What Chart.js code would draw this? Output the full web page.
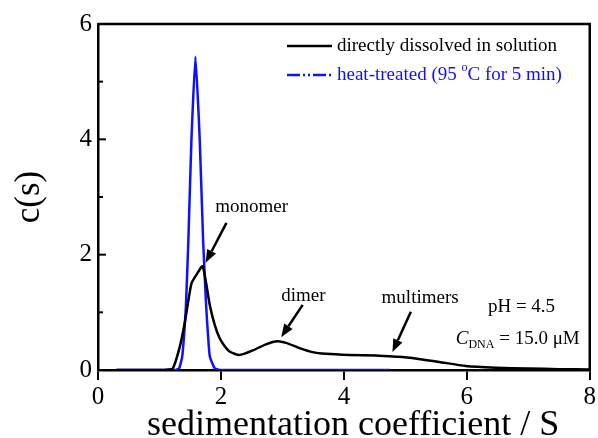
<!DOCTYPE html>
<html>
<head>
<meta charset="utf-8">
<script src="https://cdn.jsdelivr.net/npm/chart.js@4/dist/chart.umd.min.js"></script>
<style>
  html, body { margin: 0; padding: 0; background: #fff; }
</style>
</head>
<body>
<canvas id="chart" width="598" height="438"></canvas>
<script>
// Datos: c(s) frente al coeficiente de sedimentación
const xDirecto = [0.3, 1.0, 1.15, 1.22, 1.33, 1.41, 1.52, 1.60, 1.70, 1.76, 1.82, 1.90, 1.98, 2.05, 2.14, 2.30, 2.52, 2.74, 2.92, 3.06, 3.28, 3.49, 3.71, 4.09, 4.52, 4.85, 5.11, 5.35, 5.55, 5.98, 6.47, 7.0, 7.5, 8.0];
const yDirecto = [0, 0, 0.01, 0.03, 0.40, 0.81, 1.50, 1.65, 1.80, 1.50, 1.12, 0.78, 0.55, 0.43, 0.32, 0.26, 0.34, 0.45, 0.50, 0.47, 0.38, 0.31, 0.28, 0.26, 0.25, 0.23, 0.21, 0.17, 0.14, 0.07, 0.04, 0.025, 0.015, 0.01];

const xCalor = [0.3, 1.0, 1.25, 1.32, 1.37, 1.40, 1.43, 1.47, 1.52, 1.585, 1.655, 1.71, 1.76, 1.79, 1.82, 1.90, 2.0, 3.0, 4.75];
const yCalor = [0, 0, 0, 0.03, 0.23, 0.6, 1.1, 2.25, 3.99, 5.43, 3.99, 2.25, 1.1, 0.6, 0.23, 0.03, 0, 0, 0];

const etiquetasX = [0, 2, 4, 6, 8];
const etiquetasY = [0, 2, 4, 6];

const nombres = ['directly dissolved in solution', 'heat-treated (95 °C for 5 min)'];
const colores = ['#000000', '#1010ff'];
const tituloX = 'sedimentation coefficient / S';

// Anotaciones en coordenadas de datos
const notas = [
  { texto: 'monomer', x: 2.50, y: 2.83 },
  { texto: 'dimer', x: 3.34, y: 1.28 },
  { texto: 'multimers', x: 5.24, y: 1.25 },
  { texto: 'pH = 4.5', x: 6.89, y: 1.09 }
];
const flechas = [
  { x1: 2.09, y1: 2.55, x2: 1.75, y2: 1.86 },
  { x1: 3.33, y1: 1.13, x2: 2.98, y2: 0.57 },
  { x1: 5.09, y1: 1.01, x2: 4.79, y2: 0.31 }
];

const fuente = "'Liberation Serif', 'Times New Roman', serif";

const aPuntos = (xs, ys) => xs.map((x, i) => ({ x: x, y: ys[i] }));

// Dibuja una flecha con cabeza rellena
const dibujarFlecha = (ctx, x1, y1, x2, y2) => {
  const ang = Math.atan2(y2 - y1, x2 - x1);
  const largo = 13, ancho = 5;
  const bx = x2 - largo * Math.cos(ang);
  const by = y2 - largo * Math.sin(ang);
  ctx.beginPath();
  ctx.moveTo(x1, y1);
  ctx.lineTo(bx, by);
  ctx.stroke();
  ctx.beginPath();
  ctx.moveTo(x2, y2);
  ctx.lineTo(bx + ancho * Math.sin(ang), by - ancho * Math.cos(ang));
  ctx.lineTo(bx - ancho * Math.sin(ang), by + ancho * Math.cos(ang));
  ctx.closePath();
  ctx.fill();
};

const anotaciones = {
  id: 'anotaciones',
  afterDraw(chart) {
    const ctx = chart.ctx;
    const area = chart.chartArea;
    const sx = chart.scales.x;
    const sy = chart.scales.y;
    ctx.save();

    // marco superior y derecho
    ctx.strokeStyle = '#000';
    ctx.lineWidth = 2.5;
    ctx.beginPath();
    ctx.moveTo(area.left, area.top);
    ctx.lineTo(area.right, area.top);
    ctx.lineTo(area.right, area.bottom);
    ctx.stroke();

    // marcas del eje y hacia dentro
    ctx.lineWidth = 2;
    sy.ticks.forEach(t => {
      const py = sy.getPixelForValue(t.value);
      const largo = t.value % 2 === 0 ? 8 : 5;
      ctx.beginPath();
      ctx.moveTo(area.left, py);
      ctx.lineTo(area.left + largo, py);
      ctx.stroke();
    });

    // título del eje x
    ctx.fillStyle = '#000';
    ctx.font = '36px ' + fuente;
    ctx.textAlign = 'center';
    ctx.textBaseline = 'alphabetic';
    ctx.fillText(tituloX, sx.getPixelForValue(4.15), chart.height - 3);

    // leyenda
    const lx0 = area.left + 189, lx1 = area.left + 234;
    const filas = [area.top + 22, area.top + 51];
    ctx.lineWidth = 2.5;
    ctx.font = '19px ' + fuente;
    ctx.textBaseline = 'middle';
    ctx.textAlign = 'left';
    nombres.forEach((nombre, i) => {
      ctx.strokeStyle = colores[i];
      ctx.fillStyle = colores[i];
      ctx.setLineDash(i === 1 ? [13, 3, 2, 3, 2, 3] : []);
      ctx.beginPath();
      ctx.moveTo(lx0, filas[i]);
      ctx.lineTo(lx1, filas[i]);
      ctx.stroke();
      ctx.setLineDash([]);
      const tx = lx1 + 5;
      if (nombre.indexOf('°') >= 0) {
        const partes = nombre.split('°');
        const a = partes[0];
        ctx.fillText(a, tx, filas[i]);
        const w = ctx.measureText(a).width;
        ctx.font = '12px ' + fuente;
        ctx.fillText('o', tx + w, filas[i] - 7);
        const wo = ctx.measureText('o').width;
        ctx.font = '19px ' + fuente;
        ctx.fillText(partes[1], tx + w + wo, filas[i]);
      } else {
        ctx.fillText(nombre, tx, filas[i]);
      }
    });

    // textos de anotación
    ctx.fillStyle = '#000';
    ctx.strokeStyle = '#000';
    ctx.textAlign = 'center';
    notas.forEach(n => {
      ctx.fillText(n.texto, sx.getPixelForValue(n.x), sy.getPixelForValue(n.y));
    });

    // C_DNA = 15.0 μM
    let cx = sx.getPixelForValue(5.82);
    const cy = sy.getPixelForValue(0.54);
    ctx.textAlign = 'left';
    ctx.font = 'italic 19px ' + fuente;
    ctx.fillText('C', cx, cy);
    cx += ctx.measureText('C').width;
    ctx.font = '12px ' + fuente;
    ctx.fillText('DNA', cx, cy + 6);
    cx += ctx.measureText('DNA').width;
    ctx.font = '19px ' + fuente;
    ctx.fillText(' = 15.0 μM', cx, cy);

    // flechas
    ctx.lineWidth = 2.5;
    flechas.forEach(f => {
      dibujarFlecha(ctx,
        sx.getPixelForValue(f.x1), sy.getPixelForValue(f.y1),
        sx.getPixelForValue(f.x2), sy.getPixelForValue(f.y2));
    });

    ctx.restore();
  }
};

const ctx = document.getElementById('chart').getContext('2d');
const chart = new Chart(ctx, {
  type: 'line',
  data: {
    datasets: [{
      label: nombres[0],
      data: aPuntos(xDirecto, yDirecto),
      borderColor: colores[0],
      borderWidth: 2.5,
      pointRadius: 0,
      fill: false,
      tension: 0.2
    }, {
      label: nombres[1],
      data: aPuntos(xCalor, yCalor),
      borderColor: colores[1],
      borderWidth: 2.5,
      pointRadius: 0,
      fill: false,
      tension: 0.15
    }]
  },
  options: {
    responsive: false,
    animation: false,
    devicePixelRatio: 1,
    layout: { padding: { top: 24, right: 7, left: 0, bottom: 0 } },
    plugins: {
      legend: { display: false },
      tooltip: { enabled: false }
    },
    scales: {
      x: {
        type: 'linear',
        min: 0,
        max: 8,
        afterFit: (scale) => { scale.height = 68; },
        afterBuildTicks: (scale) => { scale.ticks = etiquetasX.map(v => ({ value: v })); },
        border: { color: '#000', width: 2.5 },
        grid: { drawOnChartArea: false, color: '#000', lineWidth: 2, tickLength: 10 },
        ticks: { color: '#000', padding: 2, font: { family: fuente, size: 25 }, maxRotation: 0 }
      },
      y: {
        min: 0,
        max: 6,
        afterFit: (scale) => { scale.width = 98; },
        border: { color: '#000', width: 2.5 },
        grid: { drawOnChartArea: false, drawTicks: false },
        ticks: {
          stepSize: 1,
          color: '#000',
          padding: 6,
          font: { family: fuente, size: 25 },
          callback: (v) => etiquetasY.includes(v) ? String(v) : ''
        },
        title: {
          display: true,
          text: 'c(s)',
          color: '#000',
          font: { family: fuente, size: 35, lineHeight: 1 },
          padding: { top: 12, bottom: 0 }
        }
      }
    }
  },
  plugins: [anotaciones]
});
</script>
</body>
</html>
